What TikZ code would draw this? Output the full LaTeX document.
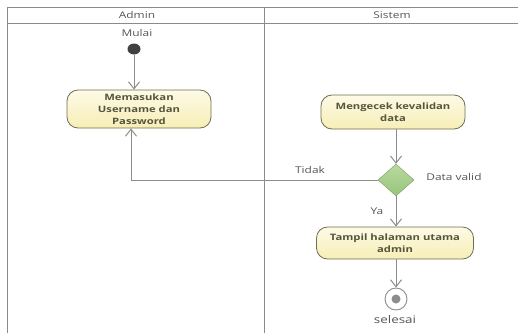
\documentclass[tikz,border=0pt]{standalone}
\usepackage{fontspec}
\setmainfont[FakeStretch=1.28]{Open Sans}
\usetikzlibrary{arrows.meta,shapes.geometric}
\definecolor{lane}{HTML}{8A8A8A}
\definecolor{flow}{HTML}{8C8C8C}
\definecolor{acttop}{HTML}{FDFAE6}
\definecolor{actbot}{HTML}{F7EEB6}
\definecolor{actdraw}{HTML}{6E6E50}
\definecolor{acttext}{HTML}{55553E}
\definecolor{dectop}{HTML}{B8DA9E}
\definecolor{decbot}{HTML}{98C47C}
\definecolor{decdraw}{HTML}{7E9C6A}
\definecolor{lbl}{HTML}{555555}
\begin{document}
\begin{tikzpicture}[x=1pt,y=-1pt,
  lanestyle/.style={draw=lane,line width=0.9pt},
  act/.style={draw=actdraw,top color=acttop,bottom color=actbot,rounded corners=11pt,line width=0.8pt,
    font=\fontsize{8.8}{12.2}\selectfont\bfseries,text=acttext,align=center,inner sep=2pt},
  dec/.style={diamond,draw=decdraw,top color=dectop,bottom color=decbot,minimum width=36pt,minimum height=32pt,inner sep=0pt,aspect=1.1},
  flowline/.style={draw=flow,line width=1pt,-{Straight Barb[length=7pt,width=11pt,line width=1pt]}},
  lbltext/.style={font=\fontsize{9.3}{10}\selectfont,text=lbl}
]
\useasboundingbox (0,0) rectangle (518,333);
% swimlanes
\draw[lanestyle] (7,333) -- (7,7) -- (518,7);
\draw[lanestyle] (7,23) -- (518,23);
\draw[lanestyle] (264,7) -- (264,333);
\node[lbltext] (hadmin) at (137,15) {Admin};
\node[lbltext] (hsistem) at (392,15) {Sistem};
% start
\node[lbltext] (mulai) at (137,33) {Mulai};
\node[ellipse,fill=black!75,minimum width=13pt,minimum height=11pt,inner sep=0pt] (start) at (134,49) {};
% actions
\node[act,minimum width=144pt,minimum height=38pt] (input) at (139,109) {Memasukan\\Username dan\\Password};
\node[act,minimum width=144pt,minimum height=34pt] (cek) at (393,112) {Mengecek kevalidan\\data};
\node[dec] (valid) at (396,180) {};
\node[act,minimum width=157pt,minimum height=32pt] (tampil) at (395,243) {Tampil halaman utama\\admin};
% end
\node[circle,draw=flow,line width=0.9pt,fill=white,minimum size=22pt,inner sep=0pt] (end) at (396,299) {};
\node[circle,fill=black!45,minimum size=9pt,inner sep=0pt] (endin) at (end.center) {};
\node[lbltext,font=\fontsize{10.5}{11}\selectfont] (selesai) at (395,320) {selesai};
% flows
\draw[flowline] (start) -- (start |- input.north);
\draw[flowline] (cek.south -| valid.north) -- (valid.north);
\coordinate (back) at (131,180);
\draw[flowline] (valid.west) -- (back) -- (input.south -| back);
\draw[flowline] (valid.south) -- (tampil.north -| valid.south);
\draw[flowline] (tampil.south -| end.north) -- (end.north);
% labels
\node[lbltext] (tidak) at (310,170) {Tidak};
\node[lbltext] (dv) at (454,177) {Data valid};
\node[lbltext] (ya) at (377,211) {Ya};
\end{tikzpicture}
\end{document}
